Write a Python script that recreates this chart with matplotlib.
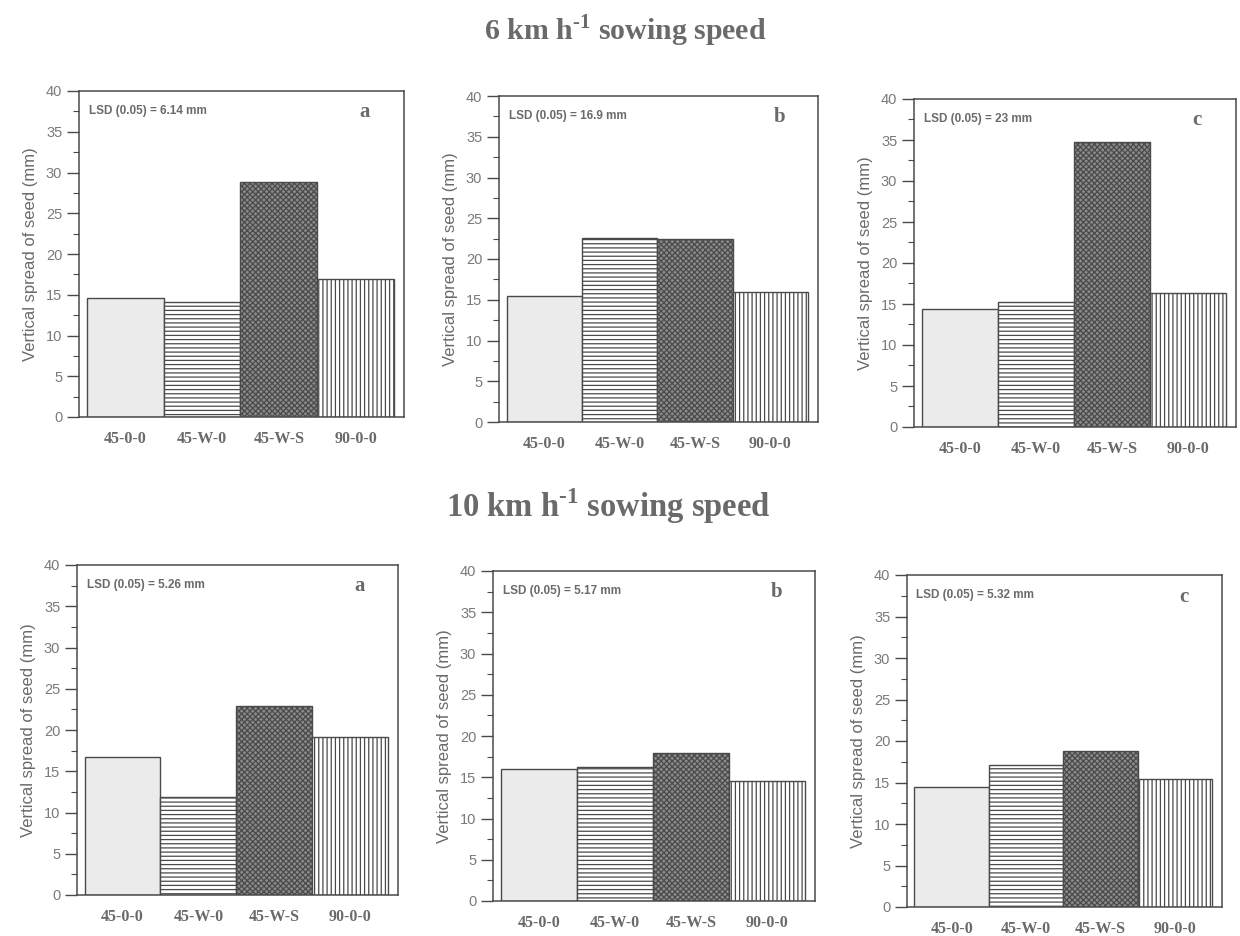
import matplotlib
matplotlib.use("Agg")
from matplotlib import pyplot as plt
from matplotlib.ticker import MultipleLocator

# treatments on the x axis
treatments = ['45-0-0', '45-W-0', '45-W-S', '90-0-0']

# vertical spread of seed (mm), 6 km/h sowing speed
speed6_a = [14.6, 14.1, 28.8, 16.9]
speed6_b = [15.5, 22.6, 22.5, 15.9]
speed6_c = [14.4, 15.2, 34.8, 16.3]

# vertical spread of seed (mm), 10 km/h sowing speed
speed10_a = [16.7, 11.9, 22.9, 19.2]
speed10_b = [16.0, 16.2, 18.0, 14.6]
speed10_c = [14.4, 17.1, 18.8, 15.4]

lsd6 = ['6.14', '16.9', '23']
lsd10 = ['5.26', '5.17', '5.32']
letters = ['a', 'b', 'c']

W, H = 1240, 936
# panel boxes in pixels: left, right, top (y=40), bottom (y=0)
boxes = [
    (79, 404, 91, 417), (499, 818, 96, 422), (914, 1236, 99, 427),
    (77, 398, 565, 895), (493, 815, 571, 901), (907, 1222, 575, 907),
]

serif = ['Liberation Serif', 'DejaVu Serif']
sans = ['Liberation Sans', 'DejaVu Sans']
text_col = '#6a6a6a'
line_col = '#4a4a4a'

plt.rcParams['hatch.linewidth'] = 0.9
plt.rcParams['mathtext.fontset'] = 'custom'
plt.rcParams['mathtext.rm'] = 'Liberation Serif:bold'
plt.rcParams['mathtext.bf'] = 'Liberation Serif:bold'

fills = [
    dict(facecolor='#ebebeb', hatch=None),
    dict(facecolor='white', hatch='----'),
    dict(facecolor='#8a8a8a', hatch='xxxxxx'),
    dict(facecolor='white', hatch='||||'),
]

fig = plt.figure(figsize=(W / 100, H / 100), dpi=100)

panels = [speed6_a, speed6_b, speed6_c, speed10_a, speed10_b, speed10_c]
lsds = lsd6 + lsd10

for i, (vals, box) in enumerate(zip(panels, boxes)):
    l, r, t, b = box
    ax = fig.add_axes([l / W, 1 - b / H, (r - l) / W, (b - t) / H])
    for j, v in enumerate(vals):
        ax.bar(j, v, width=1.0, edgecolor=line_col, linewidth=1.0, **fills[j])
    ax.set_xlim(-0.6, 3.63)
    ax.set_ylim(0, 40)
    ax.yaxis.set_major_locator(MultipleLocator(5))
    ax.yaxis.set_minor_locator(MultipleLocator(2.5))
    ax.set_xticks(range(4))
    ax.set_xticklabels(treatments, family=serif, fontweight='bold',
                       fontsize=11.5, color=text_col)
    ax.tick_params(axis='x', length=0, pad=10)
    ax.tick_params(axis='y', which='major', length=9, width=1,
                   color=line_col, labelcolor='#7a7a7a', labelsize=10.5, pad=3)
    ax.tick_params(axis='y', which='minor', length=4, width=0.8, color=line_col)
    for lab in ax.get_yticklabels():
        lab.set_family(sans)
    for sp in ax.spines.values():
        sp.set_color(line_col)
        sp.set_linewidth(1.1)
    ax.set_ylabel('Vertical spread of seed (mm)', family=sans, fontsize=12,
                  color=text_col, labelpad=6)
    ax.text(0.03, 0.94, f'LSD (0.05) = {lsds[i]} mm', transform=ax.transAxes,
            family=sans, fontweight='bold', fontsize=8.5, color=text_col,
            va='center', ha='left')
    ax.text(0.88, 0.935, letters[i % 3], transform=ax.transAxes,
            family=serif, fontweight='bold', fontsize=15, color=text_col,
            va='center', ha='center')

fig.text(0.504, 0.967, r'6 km h$^{\text{-1}}$ sowing speed', family=serif,
         fontweight='bold', fontsize=21.5, color=text_col, ha='center', va='center')
fig.text(0.491, 0.459, r'10 km h$^{\text{-1}}$ sowing speed', family=serif,
         fontweight='bold', fontsize=23.5, color=text_col, ha='center', va='center')

fig.savefig('out.png', dpi=100, facecolor='white')
